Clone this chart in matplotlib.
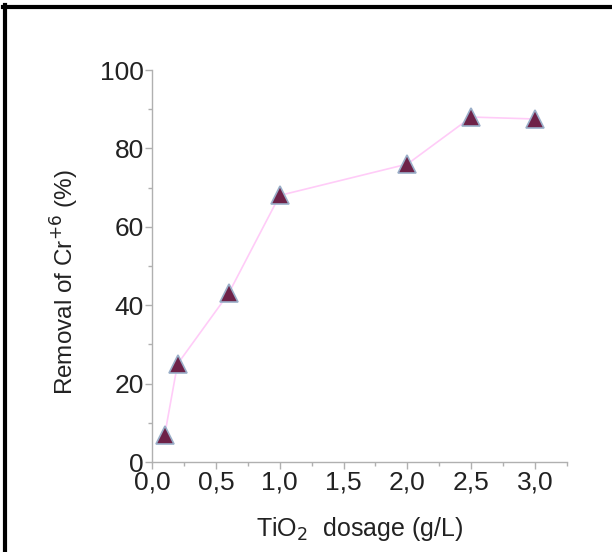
import numpy as np
import matplotlib.pyplot as plt
from matplotlib.lines import Line2D
from matplotlib.ticker import MultipleLocator, FixedFormatter, FixedLocator

plt.rcParams['font.family'] = ['Liberation Sans', 'DejaVu Sans']

# дані
dosage = [0.1, 0.2, 0.6, 1.0, 2.0, 2.5, 3.0]
removal = [7.0, 25.0, 43.0, 68.0, 76.0, 88.0, 87.5]
xticks = [0.0, 0.5, 1.0, 1.5, 2.0, 2.5, 3.0]
xtick_labels = ["0,0", "0,5", "1,0", "1,5", "2,0", "2,5", "3,0"]
yticks = [0, 20, 40, 60, 80, 100]

fig = plt.figure(figsize=(6.12, 5.52), dpi=100)
ax = fig.add_axes([152 / 612, 1 - 462 / 552, (567 - 152) / 612, (462 - 70) / 552])

ax.plot(dosage, removal, color='#ffccf8', lw=1.2, zorder=1)
ax.plot(dosage, removal, ls='none', marker='^', ms=13,
        mfc='#6e2248', mec='#9aaec8', mew=1.2, zorder=2)

ax.set_xlim(0, 3.25)
ax.set_ylim(0, 100)
ax.xaxis.set_major_locator(FixedLocator(xticks))
ax.xaxis.set_major_formatter(FixedFormatter(xtick_labels))
ax.xaxis.set_minor_locator(MultipleLocator(0.25))
ax.set_yticks(yticks)
ax.yaxis.set_minor_locator(MultipleLocator(10))

for s in ['top', 'right']:
    ax.spines[s].set_visible(False)
for s in ['left', 'bottom']:
    ax.spines[s].set_color('#b0b0b0')
    ax.spines[s].set_linewidth(1.0)

ax.tick_params(which='both', direction='out', color='#b0b0b0', width=1.0)
ax.tick_params(which='major', length=5, labelsize=19, pad=1, labelcolor='#222222')
ax.tick_params(which='minor', length=3)

ax.set_xlabel('TiO$_2$  dosage (g/L)', fontsize=18, labelpad=15, color='#222222')
ax.set_ylabel('Removal of Cr$^{+6}$ (%)', fontsize=17.5, color='#222222')
ax.yaxis.set_label_coords(-0.17, 0.46)

# рамка
fig.add_artist(Line2D([3 / 612, 1], [1 - 6.5 / 552, 1 - 6.5 / 552], color='black', lw=3,
                      transform=fig.transFigure))
fig.add_artist(Line2D([4.5 / 612, 4.5 / 612], [0, 1 - 5 / 552], color='black', lw=3,
                      transform=fig.transFigure))

fig.savefig('out.png', dpi=100)
